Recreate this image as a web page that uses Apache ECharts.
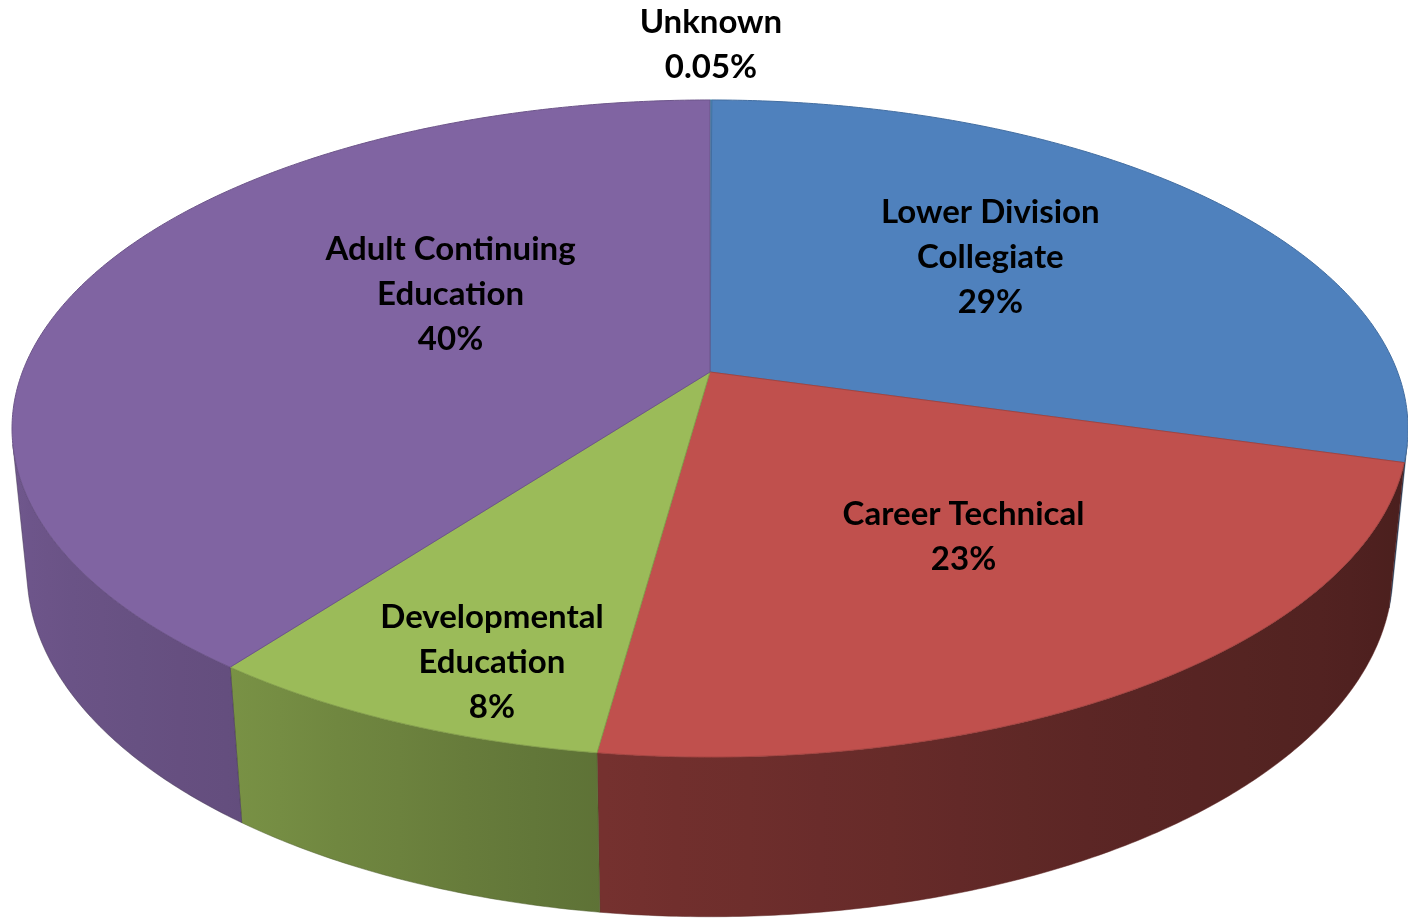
<!DOCTYPE html>
<html>
<head>
<meta charset="utf-8">
<title>Enrollment by program type</title>
<script src="https://cdn.jsdelivr.net/npm/echarts@6/dist/echarts.min.js"></script>
<style>
  html, body { margin: 0; padding: 0; background: #fff; }
  #chart { width: 1408px; height: 919px; }
</style>
</head>
<body>
<div id="chart"></div>
<script>
// slices, clockwise from 12 o'clock
var categories = ['Unknown', 'Lower Division\nCollegiate', 'Career Technical', 'Developmental\nEducation', 'Adult Continuing\nEducation'];
var shares = [0.05, 29.3, 22.8, 8.1, 39.7];
var colors = ['#4BACC6', '#4F81BD', '#C0504D', '#9BBB59', '#8064A2'];

// label spot: [radius as part of the pie, shift from the slice middle in degrees]
var labelPlace = [[1, 0], [0.58, 4.4], [0.584, 2.2], [0.833, 3.2], [0.468, -14.2]];

// perspective camera, fitted by eye to the 3d pie
var CX = 710, CY = 372, FOCAL = 3541, DIST = 5.15;
var SIN_A = 0.4637, COS_A = 0.886;
var DEPTH = 0.236;
// side wall brightness by angle (light comes from the left)
var sideShade = [[-168, 0.88], [-127, 0.78], [-98, 0.61], [-60, 0.47], [-20, 0.39], [-12, 0.38]];

function proj(r, deg, y) {
  var t = deg * Math.PI / 180;
  var d = DIST - y * SIN_A + r * Math.sin(t) * COS_A;
  var up = y * COS_A + r * Math.sin(t) * SIN_A;
  return [CX + FOCAL * r * Math.cos(t) / d, CY - FOCAL * up / d];
}

function shade(hex, f) {
  var n = parseInt(hex.slice(1), 16);
  var r = Math.round(((n >> 16) & 255) * f);
  var g = Math.round(((n >> 8) & 255) * f);
  var b = Math.round((n & 255) * f);
  return 'rgb(' + r + ',' + g + ',' + b + ')';
}

function shadeAt(deg) {
  if (deg <= sideShade[0][0]) return sideShade[0][1];
  for (var i = 1; i < sideShade.length; i++) {
    if (deg <= sideShade[i][0]) {
      var p = sideShade[i - 1], q = sideShade[i];
      return p[1] + (q[1] - p[1]) * (deg - p[0]) / (q[0] - p[0]);
    }
  }
  return sideShade[sideShade.length - 1][1];
}

function pct(v) {
  return v < 1 ? v.toFixed(2) + '%' : Math.round(v) + '%';
}

var total = shares.reduce(function (a, b) { return a + b; }, 0);
var starts = [];
var acc = 0;
shares.forEach(function (v) {
  starts.push(90 - acc / total * 360);
  acc += v;
});

// part of the rim that faces the camera
var lim = Math.asin(1 / (DIST * COS_A)) * 180 / Math.PI;
var xl = proj(1, -180 + lim, 0)[0];
var xr = proj(1, -lim, 0)[0];

function sideFill(color) {
  var stops = [];
  for (var a = -180 + lim; a <= -lim + 0.01; a += 5) {
    var x = proj(1, a, 0)[0];
    stops.push({ offset: Math.min(1, Math.max(0, (x - xl) / (xr - xl))), color: shade(color, shadeAt(a)) });
  }
  return { type: 'linear', x: xl, y: 0, x2: xr, y2: 0, global: true, colorStops: stops };
}

function renderItem(params, api) {
  var i = params.dataIndex;
  var v = api.value(0);
  var a0 = starts[i];
  var a1 = a0 - v / total * 360;
  var children = [];

  // top face
  var pts = [proj(0, 0, 0)];
  var n = Math.max(2, Math.ceil((a0 - a1) / 0.5));
  for (var k = 0; k <= n; k++) pts.push(proj(1, a0 - (a0 - a1) * k / n, 0));
  children.push({
    type: 'polygon', z2: 5,
    shape: { points: pts },
    style: { fill: colors[i], stroke: shade(colors[i], 0.85), lineWidth: 1 }
  });

  // front wall
  var s0 = Math.min(a0, -lim), s1 = Math.max(a1, -180 + lim);
  if (s0 > s1) {
    var wall = [];
    var m = Math.max(2, Math.ceil((s0 - s1) / 0.5));
    for (k = 0; k <= m; k++) wall.push(proj(1, s0 - (s0 - s1) * k / m, 0));
    for (k = m; k >= 0; k--) wall.push(proj(1, s0 - (s0 - s1) * k / m, -DEPTH));
    children.push({
      type: 'polygon', z2: 1,
      shape: { points: wall },
      style: { fill: sideFill(colors[i]), stroke: shade(colors[i], 0.5), lineWidth: 0.5 }
    });
  }

  // label
  var lp = labelPlace[i];
  var mid = (a0 + a1) / 2 + lp[1];
  var at = proj(Math.min(lp[0], 1), mid, 0);
  if (lp[0] >= 1) at[1] -= 55;
  children.push({
    type: 'text', z2: 10,
    style: {
      text: categories[i] + '\n' + pct(v),
      x: at[0], y: at[1],
      align: 'center', verticalAlign: 'middle',
      fontFamily: 'Lato', fontWeight: 'bold', fontSize: 33, lineHeight: 45,
      fill: '#000'
    }
  });

  return { type: 'group', children: children };
}

var chart = echarts.init(document.getElementById('chart'));
chart.setOption({
  animation: false,
  backgroundColor: '#fff',
  series: [{
    type: 'custom',
    coordinateSystem: 'none',
    renderItem: renderItem,
    data: shares.map(function (v, i) {
      return { name: categories[i], value: [v] };
    })
  }]
});
</script>
</body>
</html>
